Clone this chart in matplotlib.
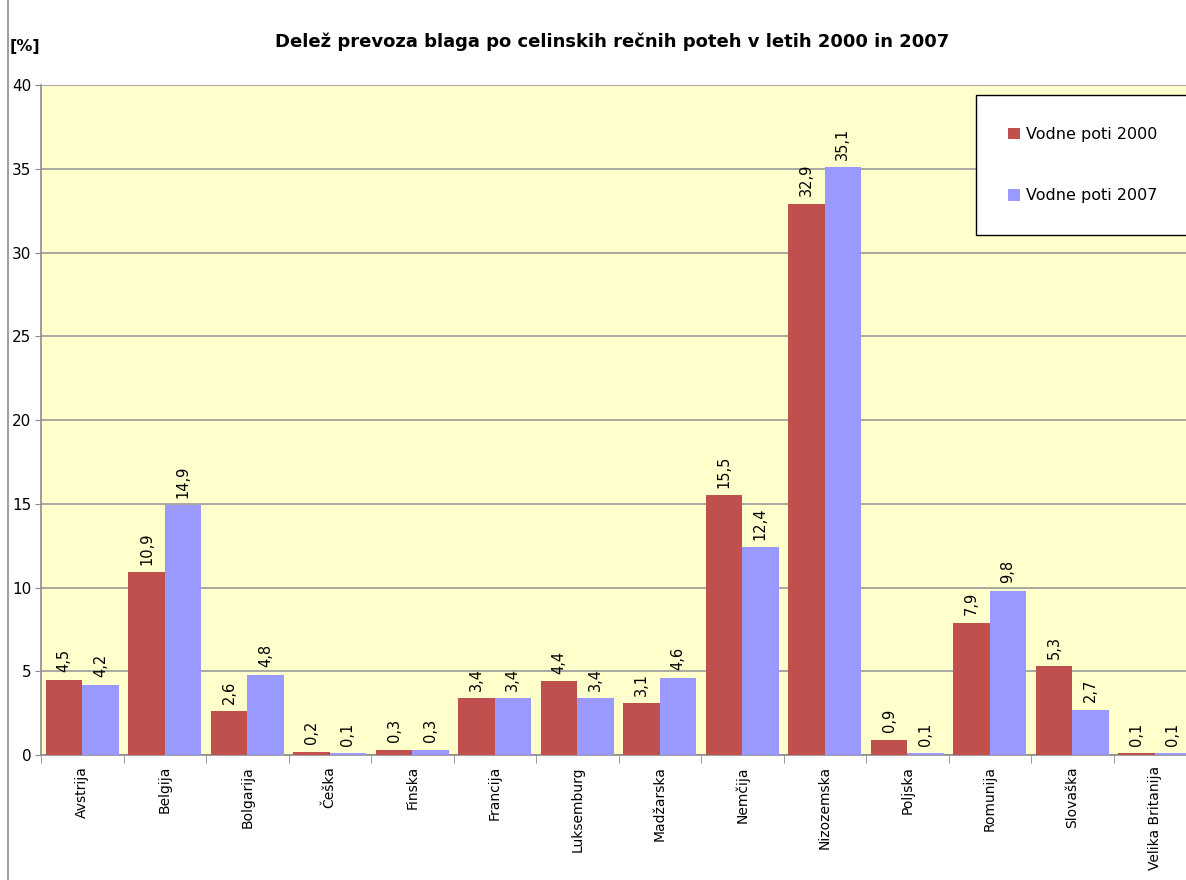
import matplotlib.pyplot as plt
import numpy as np
from matplotlib.patches import Rectangle

countries = ['Avstrija', 'Belgija', 'Bolgarija', 'Češka', 'Finska', 'Francija',
             'Luksemburg', 'Madžarska', 'Nemčija', 'Nizozemska', 'Poljska',
             'Romunija', 'Slovaška', 'Velika Britanija']
water_2000 = [4.5, 10.9, 2.6, 0.2, 0.3, 3.4, 4.4, 3.1, 15.5, 32.9, 0.9, 7.9, 5.3, 0.1]
water_2007 = [4.2, 14.9, 4.8, 0.1, 0.3, 3.4, 3.4, 4.6, 12.4, 35.1, 0.1, 9.8, 2.7, 0.1]
labels = ['Vodne poti 2000', 'Vodne poti 2007']

W, H = 1186, 880
fig = plt.figure(figsize=(W / 100, H / 100), dpi=100)

# chart area border (left edge visible only)
fig.patches.append(Rectangle((8 / W, -0.1), 1.2, 1.3, transform=fig.transFigure,
                             facecolor='white', edgecolor='#8c8c8c', linewidth=1.2, zorder=-10))

left, right, top, bottom = 41, 1196, 85, 755
ax = fig.add_axes([left / W, 1 - bottom / H, (right - left) / W, (bottom - top) / H])
ax.set_facecolor('#FFFFCC')

x = np.arange(len(countries))
w = 0.44
b1 = ax.bar(x - w / 2, water_2000, w, color='#C0504D', label=labels[0], zorder=3)
b2 = ax.bar(x + w / 2, water_2007, w, color='#9999FF', label=labels[1], zorder=3)

for bars, vals in ((b1, water_2000), (b2, water_2007)):
    for r, v in zip(bars, vals):
        ax.text(r.get_x() + r.get_width() / 2, v + 0.45, f'{v:.1f}'.replace('.', ','),
                rotation=90, ha='center', va='bottom', fontsize=10.5, zorder=4)

ax.set_xlim(-0.5, len(countries) - 0.5)
ax.set_ylim(0, 40)
ax.set_yticks(range(0, 41, 5))
ax.tick_params(axis='y', labelsize=11, length=4, color='#8c8c8c', pad=3)
ax.yaxis.grid(True, color='#999999', linewidth=1.2, zorder=0)

ax.set_xticks(x)
ax.set_xticklabels(countries, rotation=90, fontsize=10)
ax.set_xticks(np.arange(-0.5, len(countries), 1), minor=True)
ax.tick_params(axis='x', which='major', length=0, pad=8)
ax.tick_params(axis='x', which='minor', length=6, color='#8c8c8c')

for s in ['top', 'right']:
    ax.spines[s].set_visible(False)
for s in ['left', 'bottom']:
    ax.spines[s].set_color('#8c8c8c')
    ax.spines[s].set_linewidth(1.2)

fig.text(612 / W, 1 - 42 / H, 'Delež prevoza blaga po celinskih rečnih poteh v letih 2000 in 2007',
         ha='center', va='center', fontsize=13, fontweight='bold')
fig.text(10 / W, 1 - 46 / H, '[%]', ha='left', va='center', fontsize=11.5, fontweight='bold')

leg = ax.legend(loc='upper left', bbox_to_anchor=(976 / W, 1 - 95 / H), bbox_transform=fig.transFigure,
                frameon=True, fancybox=False, edgecolor='black', fontsize=11.5, framealpha=1,
                borderpad=2.0, labelspacing=2.9, handlelength=0.75, handleheight=0.75,
                handletextpad=0.4, borderaxespad=0)
leg.get_frame().set_linewidth(1.0)
leg.get_frame().set_facecolor('white')

plt.savefig('out.png', dpi=100)
